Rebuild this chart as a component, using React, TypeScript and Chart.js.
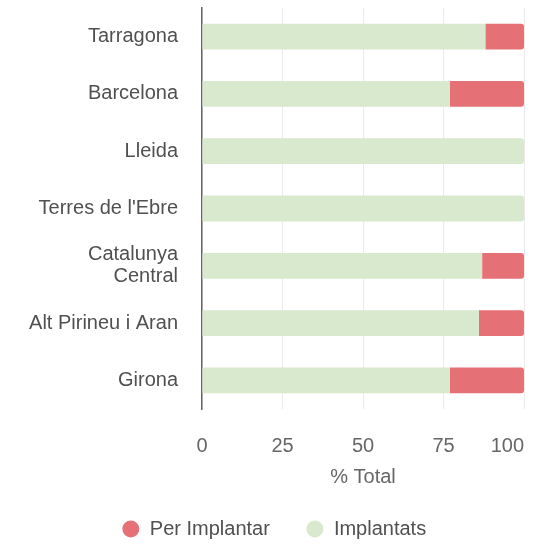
import React, { useEffect, useRef } from "react";
import { Chart, registerables } from "chart.js";
Chart.register(...registerables);

const categories: (string | string[])[] = [
  "Tarragona",
  "Barcelona",
  "Lleida",
  "Terres de l'Ebre",
  ["Catalunya", "Central"],
  "Alt Pirineu i Aran",
  "Girona",
];
const implantats = [88, 77, 100, 100, 87, 86, 77];
const perImplantar = [12, 23, 0, 0, 13, 14, 23];
const xTicks = [0, 25, 50, 75, 100];

const lastTickRightAlign = {
  id: "lastTickRightAlign",
  beforeDraw(chart: any) {
    const s = chart.scales.x;
    if (!s) return;
    const items = s.getLabelItems();
    const last = items[items.length - 1];
    if (last && last.options.textAlign !== "right") {
      last.options.textAlign = "right";
      last.options.translation[0] = s.right;
    }
  },
};

export default function App() {
  const ref = useRef<HTMLCanvasElement>(null);
  useEffect(() => {
    if (!ref.current) return;
    const family = "'Liberation Sans', Arial, sans-serif";
    const font = { family, size: 20 };
    const chart = new Chart(ref.current, {
      type: "bar",
      data: {
        labels: categories as any,
        datasets: [
          {
            label: "Implantats",
            data: implantats,
            backgroundColor: "rgb(216,233,205)",
            borderRadius: 3,
          },
          {
            label: "Per Implantar",
            data: perImplantar,
            backgroundColor: "rgb(229,112,118)",
            borderRadius: 3,
          },
        ],
      },
      options: {
        indexAxis: "y",
        animation: false,
        responsive: true,
        maintainAspectRatio: false,
        layout: { padding: { left: 24, right: 14, top: 8, bottom: -2 } },
        datasets: { bar: { categoryPercentage: 0.9, barPercentage: 0.5 } },
        scales: {
          x: {
            stacked: true,
            min: 0,
            max: 100,
            afterBuildTicks: (axis: any) => {
              axis.ticks = xTicks.map((v) => ({ value: v }));
            },
            afterFit: (axis: any) => {
              axis.paddingRight = 0;
              axis.paddingLeft = 0;
            },
            grid: { color: "#ebebeb", drawTicks: true, tickLength: 25, tickColor: "rgba(0,0,0,0)" },
            border: { display: false },
            ticks: { color: "#666", font, padding: 0, maxRotation: 0 },
            title: {
              display: true,
              text: "% Total",
              color: "#666",
              font,
              padding: { top: 7, bottom: -6 },
            },
          },
          y: {
            stacked: true,
            afterFit: (axis: any) => {
              axis.width = 178;
              axis.paddingTop = 0;
              axis.paddingBottom = 0;
            },
            grid: { display: false, drawTicks: false },
            border: { display: true, color: "#666", width: 1.5 },
            ticks: { color: "#505050", font: { family, size: 20, lineHeight: 1.1 }, padding: 24 },
          },
        },
        plugins: {
          legend: {
            position: "bottom",
            reverse: true,
            labels: {
              usePointStyle: true,
              pointStyle: "circle",
              boxWidth: 18,
              boxHeight: 12,
              padding: 36,
              color: "#505050",
              font,
            },
          },
          tooltip: { enabled: false },
        },
      },
      plugins: [lastTickRightAlign],
    });
    return () => chart.destroy();
  }, []);
  return (
    <div style={{ position: "fixed", left: 0, top: 0, width: 538, height: 547, background: "#fff" }}>
      <canvas ref={ref} />
    </div>
  );
}
